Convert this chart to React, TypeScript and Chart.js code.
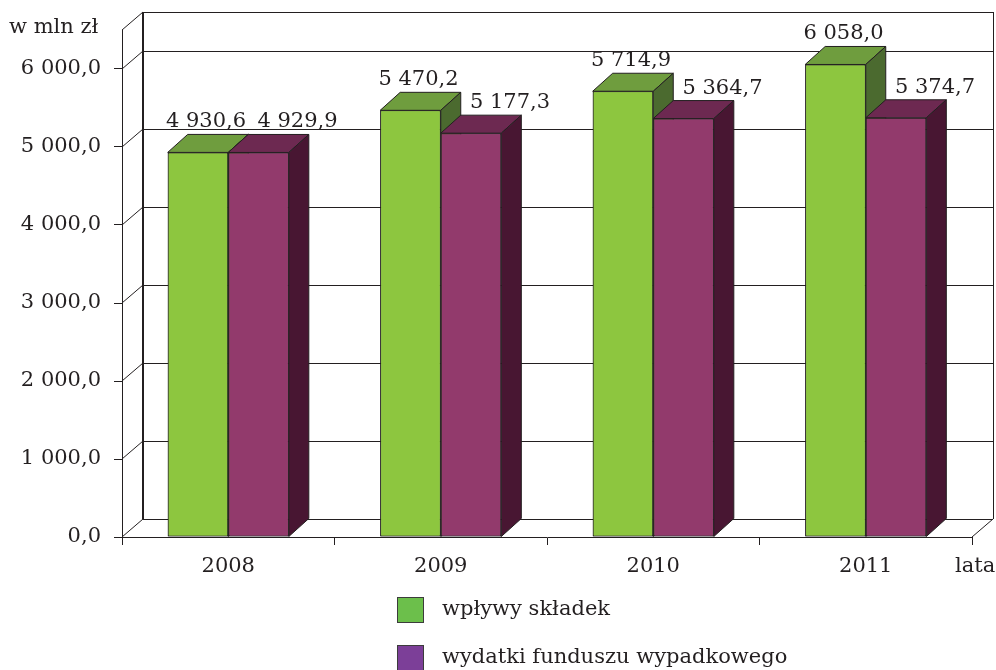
import { useEffect, useRef } from 'react';
import { Chart, registerables } from 'chart.js';

Chart.register(...registerables);

// Fundusz wypadkowy: wpływy i wydatki (w mln zł)
const years = ['2008', '2009', '2010', '2011'];
const wplywySkladek = [4930.6, 5470.2, 5714.9, 6058.0];
const wydatkiFunduszu = [4929.9, 5177.3, 5364.7, 5374.7];
const seriesNames = ['wpływy składek', 'wydatki funduszu wypadkowego'];
const yMin = 0;
const yMax = 6500;
const yTicks = [0, 1000, 2000, 3000, 4000, 5000, 6000];
const unitLabel = 'w mln zł';
const xAxisTitle = 'lata';

const INK = '#231f20';
const FONT = '"DejaVu Serif", "Liberation Serif", serif';
const FONT_SIZE = 21;

// depth of the 3D box (walls and bars)
const WALL_DX = 21;
const WALL_DY = 18;
const BAR_DX = 20;
const BAR_DY = 18;

const seriesStyles = [
  { front: '#8dc63f', top: '#6f9d3e', side: '#4b6a2f', legend: '#6cbf4b', labelShift: 8 },
  { front: '#923a6c', top: '#6d2951', side: '#481632', legend: '#7c3f98', labelShift: 39 },
];

function fmt(v: number): string {
  const [i, d] = v.toFixed(1).split('.');
  return i.replace(/\B(?=(\d{3})+(?!\d))/g, ' ') + ',' + d;
}

const crisp = (v: number) => Math.round(v) + 0.5;

function line(ctx: CanvasRenderingContext2D, x1: number, y1: number, x2: number, y2: number) {
  ctx.beginPath();
  ctx.moveTo(x1, y1);
  ctx.lineTo(x2, y2);
  ctx.stroke();
}

function poly(ctx: CanvasRenderingContext2D, pts: number[][], fill: string) {
  ctx.beginPath();
  ctx.moveTo(pts[0][0], pts[0][1]);
  for (let k = 1; k < pts.length; k++) ctx.lineTo(pts[k][0], pts[k][1]);
  ctx.closePath();
  ctx.fillStyle = fill;
  ctx.fill();
  ctx.strokeStyle = INK;
  ctx.lineWidth = 1;
  ctx.stroke();
}

// back wall, side wall and floor of the 3D box
const wallsPlugin = {
  id: 'walls3d',
  beforeDatasetsDraw(chart: any) {
    const { ctx, chartArea: a, scales } = chart;
    const y = scales.y;
    ctx.save();
    ctx.strokeStyle = INK;
    ctx.lineWidth = 1;
    const bx0 = a.left + WALL_DX;
    const bx1 = a.right + WALL_DX;
    const levels = [...y.ticks.map((t: any) => t.value), yMax];
    for (const v of levels) {
      const py = y.getPixelForValue(v);
      line(ctx, bx0, crisp(py - WALL_DY), bx1, crisp(py - WALL_DY));
      line(ctx, a.left, py, bx0, py - WALL_DY);
    }
    const topY = y.getPixelForValue(yMax) - WALL_DY;
    const botY = y.getPixelForValue(yMin) - WALL_DY;
    line(ctx, crisp(bx1), topY, crisp(bx1), botY);
    line(ctx, a.right, a.bottom, bx1, a.bottom - WALL_DY);
    ctx.lineWidth = 2;
    line(ctx, Math.round(bx0), topY, Math.round(bx0), botY);
    ctx.restore();
  },
  afterDatasetsDraw(chart: any) {
    const { ctx } = chart;
    const metas = seriesStyles.map((_, i) => chart.getDatasetMeta(i));
    ctx.save();
    for (let j = 0; j < years.length; j++) {
      metas.forEach((meta: any, i: number) => {
        const el = meta.data[j];
        const st = seriesStyles[i];
        el.draw(ctx);
        const { x, y, base, width } = el.getProps(['x', 'y', 'base', 'width'], true);
        const x0 = x - width / 2;
        const x1 = x + width / 2;
        poly(ctx, [[x0, y], [x1, y], [x1 + BAR_DX, y - BAR_DY], [x0 + BAR_DX, y - BAR_DY]], st.top);
        poly(ctx, [[x1, y], [x1 + BAR_DX, y - BAR_DY], [x1 + BAR_DX, base - BAR_DY], [x1, base]], st.side);
      });
    }
    // value labels
    ctx.fillStyle = INK;
    ctx.font = `${FONT_SIZE}px ${FONT}`;
    ctx.textAlign = 'center';
    ctx.textBaseline = 'alphabetic';
    metas.forEach((meta: any, i: number) => {
      const values = chart.data.datasets[i].data as number[];
      meta.data.forEach((el: any, j: number) => {
        const { x, y } = el.getProps(['x', 'y'], true);
        ctx.fillText(fmt(values[j]), x + seriesStyles[i].labelShift, y - BAR_DY - 7);
      });
    });
    ctx.restore();
  },
  afterDraw(chart: any) {
    const { ctx } = chart;
    ctx.save();
    ctx.fillStyle = INK;
    ctx.font = `${FONT_SIZE}px ${FONT}`;
    ctx.textBaseline = 'alphabetic';
    ctx.textAlign = 'left';
    ctx.fillText(unitLabel, 9, 33);
    ctx.fillText(xAxisTitle, 955, 572);
    // legend
    seriesNames.forEach((name, i) => {
      const top = 597 + i * 48;
      ctx.fillStyle = seriesStyles[i].legend;
      ctx.fillRect(397, top, 27, 26);
      ctx.strokeStyle = '#3c3c3c';
      ctx.lineWidth = 1;
      ctx.strokeRect(397.5, top + 0.5, 26, 25);
      ctx.fillStyle = INK;
      ctx.textBaseline = 'middle';
      ctx.fillText(name, 442, top + 13);
    });
    ctx.restore();
  },
};

export default function App() {
  const canvasRef = useRef<HTMLCanvasElement | null>(null);

  useEffect(() => {
    const canvas = canvasRef.current;
    if (!canvas) return;
    const tickFont = { family: FONT, size: FONT_SIZE };
    const chart = new Chart(canvas, {
      type: 'bar',
      data: {
        labels: years,
        datasets: [wplywySkladek, wydatkiFunduszu].map((data, i) => ({
          label: seriesNames[i],
          data,
          backgroundColor: seriesStyles[i].front,
          borderColor: INK,
          borderWidth: 1,
          borderSkipped: false,
          categoryPercentage: 0.57,
          barPercentage: 1.0,
        })),
      },
      options: {
        responsive: false,
        animation: false,
        layout: { padding: { top: 30, right: 24, left: 0, bottom: 0 } },
        plugins: {
          legend: { display: false },
          tooltip: { enabled: false },
        },
        scales: {
          x: {
            grid: { drawOnChartArea: false, drawTicks: true, tickLength: 8, color: INK, offset: true },
            border: { display: true, color: INK, width: 1 },
            ticks: { color: INK, font: tickFont, padding: 9 },
            afterFit: (s: any) => {
              s.height = 133;
            },
          },
          y: {
            min: yMin,
            max: yMax,
            grid: { drawOnChartArea: false, drawTicks: true, tickLength: 8, color: INK },
            border: { display: true, color: INK, width: 1 },
            ticks: {
              color: INK,
              font: tickFont,
              padding: 13,
              callback: (v: any) => fmt(Number(v)),
            },
            afterBuildTicks: (s: any) => {
              s.ticks = yTicks.map((value) => ({ value }));
            },
            afterFit: (s: any) => {
              s.width = 122;
            },
          },
        },
      },
      plugins: [wallsPlugin],
    } as any);
    return () => chart.destroy();
  }, []);

  return (
    <div style={{ position: 'fixed', left: 0, top: 0, width: 996, height: 670, background: '#fff' }}>
      <canvas ref={canvasRef} width={996} height={670} style={{ display: 'block' }} />
    </div>
  );
}
